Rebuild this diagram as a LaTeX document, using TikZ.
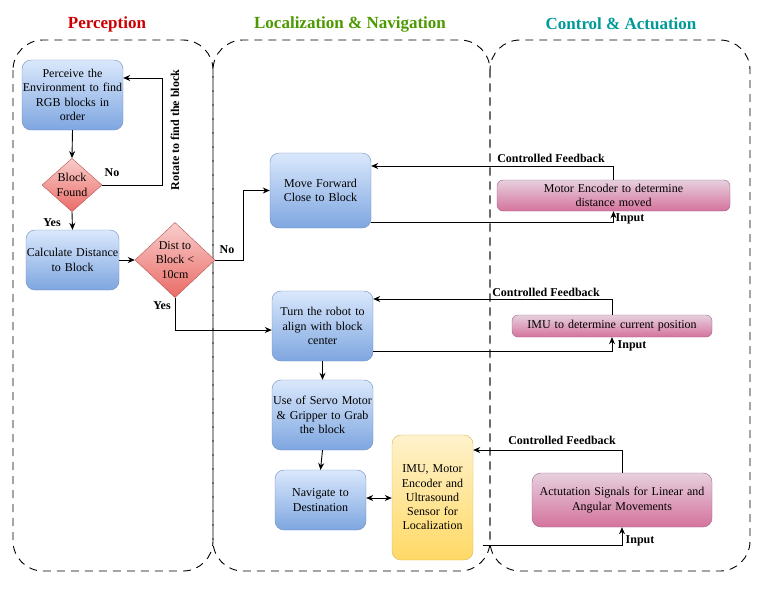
\documentclass[tikz,border=0pt]{standalone}
\usepackage{fontspec}
\setmainfont{Liberation Serif}
\usetikzlibrary{shapes.geometric,arrows.meta}
\definecolor{bluetop}{HTML}{DAE8FC}
\definecolor{bluebot}{HTML}{7EA6E0}
\definecolor{bluedraw}{HTML}{6C8EBF}
\definecolor{redtop}{HTML}{F8CECC}
\definecolor{redbot}{HTML}{EA6B66}
\definecolor{reddraw}{HTML}{B85450}
\definecolor{pinktop}{HTML}{E6D0DE}
\definecolor{pinkbot}{HTML}{D5739D}
\definecolor{pinkdraw}{HTML}{996185}
\definecolor{yeltop}{HTML}{FFF2CC}
\definecolor{yelbot}{HTML}{FFD966}
\definecolor{yeldraw}{HTML}{D6B656}
\definecolor{tred}{HTML}{CC0000}
\definecolor{tgreen}{HTML}{4D9900}
\definecolor{tteal}{HTML}{009999}
\tikzset{
  container/.style={draw=black, line width=0.9pt, dash pattern=on 8pt off 6pt, rounded corners=30pt},
  title/.style={font=\fontsize{17}{20}\selectfont\bfseries},
  box/.style={rectangle, rounded corners=9pt, draw=bluedraw, top color=bluetop, bottom color=bluebot,
    align=center, inner sep=0pt, font=\fontsize{12}{14.3}\selectfont},
  dia/.style={diamond, draw=reddraw, top color=redtop, bottom color=redbot, align=center,
    inner sep=0pt, font=\fontsize{12}{14.3}\selectfont},
  pinkbox/.style={rectangle, rounded corners=6pt, draw=pinkdraw, top color=pinktop, bottom color=pinkbot,
    align=center, inner sep=0pt, font=\fontsize{12}{14.3}\selectfont},
  yelbox/.style={rectangle, rounded corners=9pt, draw=yeldraw, top color=yeltop, bottom color=yelbot,
    align=center, inner sep=0pt, font=\fontsize{12}{14.3}\selectfont},
  arr/.style={draw=black, line width=0.9pt, -{Stealth[length=7pt,width=6pt]}},
  lbl/.style={font=\fontsize{12}{14}\selectfont\bfseries, inner sep=0pt},
}
\begin{document}
\begin{tikzpicture}[x=1pt,y=-1pt]
\useasboundingbox (0,0) rectangle (762,598);
% containers
\draw[container] (13,40) rectangle (213,571);
\draw[container] (213,40) rectangle (490,571);
\draw[container] (490,40) rectangle (750,571);
% titles
\node[title, text=tred] (t1) at (107,24) {Perception};
\node[title, text=tgreen] (t2) at (350,24) {Localization \& Navigation};
\node[title, text=tteal] (t3) at (621,24) {Control \& Actuation};
% nodes
\node[box, minimum width=101pt, minimum height=70pt, text width=100pt] (perc) at (72.5,95)
  {Perceive the\\Environment to find\\RGB blocks in\\order};
\node[dia, minimum width=60pt, minimum height=50pt] (found) at (72,185) {Block\\Found};
\node[box, minimum width=93pt, minimum height=60pt, text width=92pt] (calc) at (72.5,260)
  {Calculate Distance\\to Block};
\node[dia, minimum width=80pt, minimum height=72pt] (dist) at (175,260) {Dist to\\Block <\\10cm};
\node[box, minimum width=101pt, minimum height=75pt, text width=98pt] (move) at (320.5,190.5)
  {Move Forward\\Close to Block};
\node[box, minimum width=101pt, minimum height=70pt, text width=100pt] (turn) at (322.5,326)
  {Turn the robot to\\align with block\\center};
\node[box, minimum width=101pt, minimum height=70pt, text width=101pt] (servo) at (322.5,415)
  {Use of Servo Motor\\\& Gripper to Grab\\the block};
\node[box, minimum width=91pt, minimum height=60pt, text width=90pt] (nav) at (320.5,500)
  {Navigate to\\Destination};
\node[yelbox, minimum width=81pt, minimum height=125pt, text width=80pt] (imu) at (432.5,497.5)
  {IMU, Motor\\Encoder and\\Ultrasound\\Sensor for\\Localization};
\node[pinkbox, minimum width=233pt, minimum height=31pt, text width=230pt] (enc) at (613.5,195.5)
  {Motor Encoder to determine\\distance moved};
\node[pinkbox, minimum width=200pt, minimum height=22pt, text width=198pt] (imupos) at (612,326)
  {IMU to determine current position};
\node[pinkbox, rounded corners=9pt, minimum width=180pt, minimum height=54pt, text width=178pt] (act) at (622,500)
  {Actutation Signals for Linear and\\Angular Movements};
\coordinate (inp3) at (483,545);
% connectors
\draw[arr] (perc.south) -- (found.north);
\draw[arr] (found.east) -- (162,185) -- (162,78) -- (perc.east |- 0,78);
\draw[arr] (found.south) -- (calc.north);
\draw[arr] (calc.east) -- (dist.west);
\draw[arr] (dist.east) -- (243,260) |- (move.west);
\draw[arr] (dist.south) -- (175,330) -- (turn.west |- 0,330);
\draw[arr] (turn.south) -- (servo.north);
\draw[arr] (servo.south) -- (nav.north |- 0,470);
\draw[draw=black, line width=0.9pt, {Stealth[length=7pt,width=6pt]}-{Stealth[length=7pt,width=6pt]}] (nav.east |- 0,498) -- (imu.west |- 0,498);
\draw[arr] (enc.north) |- (move.east |- 0,166);
\draw[arr] (move.east |- 0,222) -| (enc.south);
\draw[arr] (imupos.north) |- (turn.east |- 0,299);
\draw[arr] (turn.east |- 0,351) -| (imupos.south);
\draw[arr] (act.north) |- (imu.east |- 0,450);
\draw[arr] (inp3) -| (act.south);
% labels
\node[lbl] (l1) at (112,173) {No};
\node[lbl] (l2) at (52,223) {Yes};
\node[lbl] (l3) at (227,250) {No};
\node[lbl] (l4) at (162,306) {Yes};
\node[lbl, rotate=90] (l5) at (175,130) {Rotate to find the block};
\node[lbl] (l6) at (551,158) {Controlled Feedback};
\node[lbl] (l7) at (546,292) {Controlled Feedback};
\node[lbl] (l8) at (562,440) {Controlled Feedback};
\node[lbl] (l9) at (630,219) {Input};
\node[lbl] (l10) at (632,346) {Input};
\node[lbl] (l11) at (640,541) {Input};
\end{tikzpicture}
\end{document}
